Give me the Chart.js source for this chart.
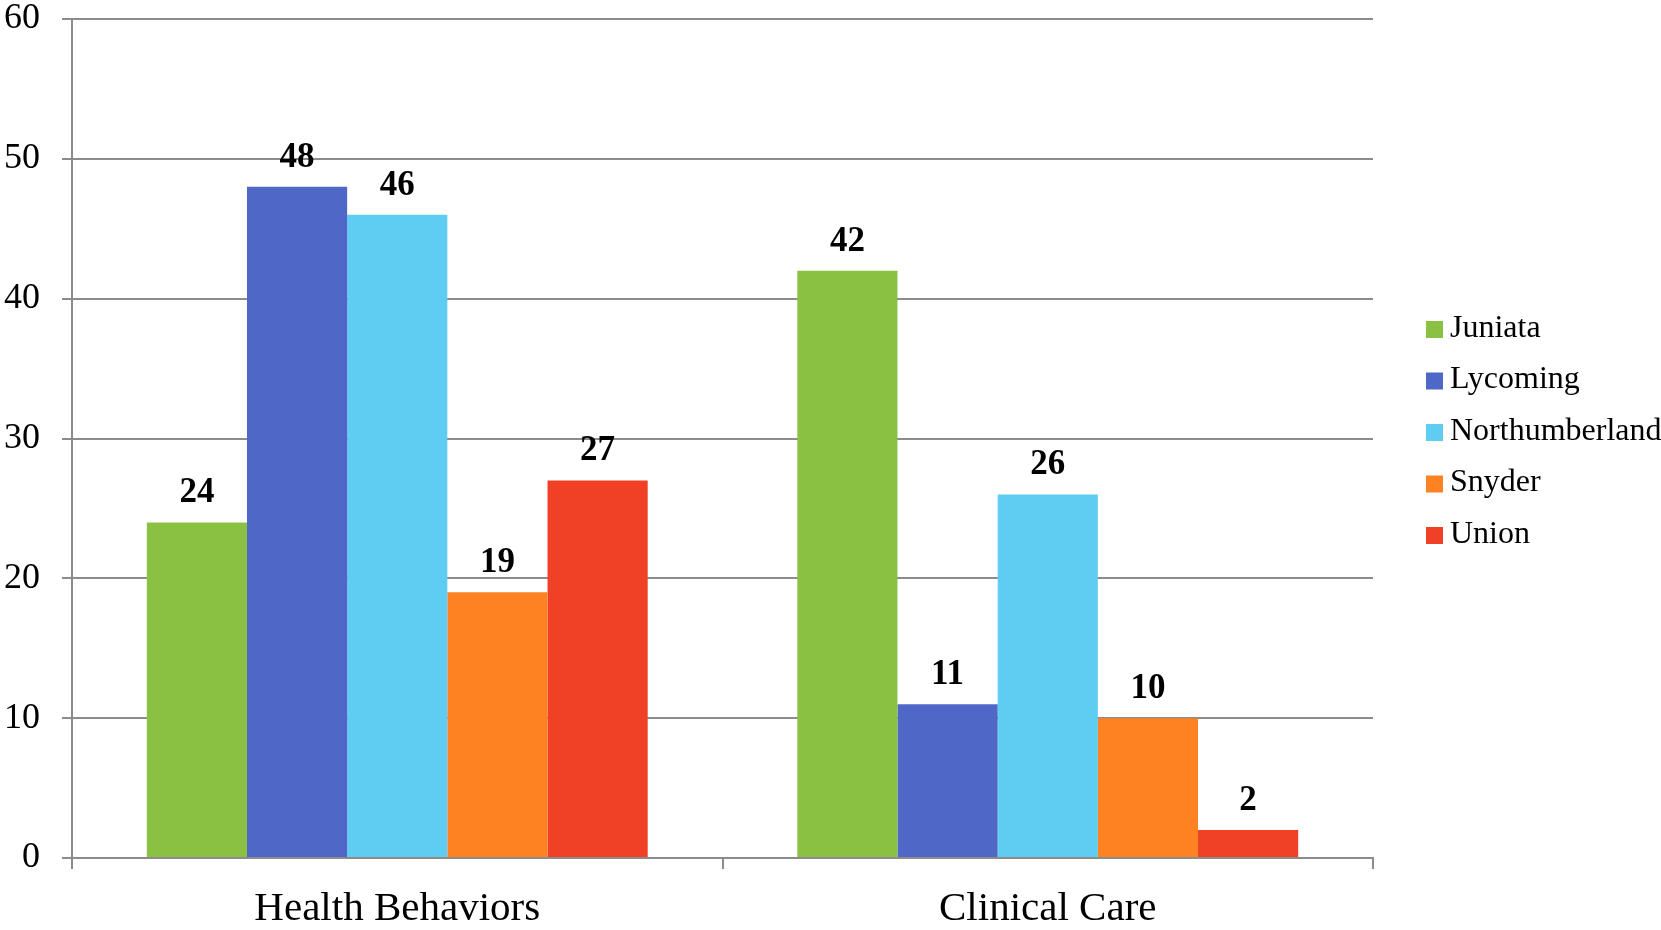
<!DOCTYPE html>
<html>
<head>
<meta charset="utf-8">
<title>Health Behaviors and Clinical Care</title>
<script src="https://cdn.jsdelivr.net/npm/chart.js@4"></script>
<style>
  html, body { margin: 0; padding: 0; background: #ffffff; overflow: hidden; }
  #wrap { width: 1661px; height: 930px; position: relative; }
  #chart { display: block; }
</style>
</head>
<body>
<div id="wrap"><canvas id="chart"></canvas></div>
<script>
// Categories along the x axis
const categories = ['Health Behaviors', 'Clinical Care'];

// One array per county, in category order
const juniata = [24, 42];
const lycoming = [48, 11];
const northumberland = [46, 26];
const snyder = [19, 10];
const union = [27, 2];

const seriesNames = ['Juniata', 'Lycoming', 'Northumberland', 'Snyder', 'Union'];
const seriesValues = [juniata, lycoming, northumberland, snyder, union];
const seriesColors = ['#8bc142', '#4f68c8', '#5fccf2', '#fe8122', '#f04126'];

// Y axis range
const yMin = 0;
const yMax = 60;
const yStep = 10;

const FONT = '"Liberation Serif", "Times New Roman", serif';
const GRID = '#8c8c8c';

// Bold value written above each bar
const valueLabels = {
  id: 'valueLabels',
  afterDatasetsDraw(chart) {
    const ctx = chart.ctx;
    ctx.save();
    ctx.font = 'bold 35px ' + FONT;
    ctx.fillStyle = '#000000';
    ctx.textAlign = 'center';
    ctx.textBaseline = 'alphabetic';
    chart.data.datasets.forEach((ds, i) => {
      const meta = chart.getDatasetMeta(i);
      meta.data.forEach((bar, j) => {
        ctx.fillText(String(ds.data[j]), bar.x, bar.y - 20);
      });
    });
    ctx.restore();
  }
};

// Series key at the right of the plot
const sideLegend = {
  id: 'sideLegend',
  afterDraw(chart) {
    const ctx = chart.ctx;
    const datasets = chart.data.datasets;
    const rowGap = 51.5;
    const boxSize = 17;
    const boxX = chart.chartArea.right + 53;
    const textX = boxX + boxSize + 7;
    const midY = (chart.chartArea.top + chart.chartArea.bottom) / 2 - 7;
    const firstY = midY - rowGap * (datasets.length - 1) / 2;
    ctx.save();
    ctx.font = '32px ' + FONT;
    ctx.textAlign = 'left';
    ctx.textBaseline = 'middle';
    datasets.forEach((ds, i) => {
      const y = firstY + i * rowGap;
      ctx.fillStyle = ds.backgroundColor;
      ctx.fillRect(boxX, y - boxSize / 2 + 1, boxSize, boxSize);
      ctx.fillStyle = '#000000';
      ctx.fillText(ds.label, textX, y);
    });
    ctx.restore();
  }
};

// Fixed axis band sizes; the plot box comes from the layout padding
function fitXAxis(scale) {
  scale.paddingLeft = 0;
  scale.paddingRight = 0;
  scale.height = 72;
}
function fitYAxis(scale) {
  scale.paddingTop = 0;
  scale.paddingBottom = 0;
  scale.width = 68;
}

new Chart(document.getElementById('chart'), {
  type: 'bar',
  data: {
    labels: categories,
    datasets: seriesNames.map((name, i) => ({
      label: name,
      data: seriesValues[i],
      backgroundColor: seriesColors[i],
      borderWidth: 0,
      categoryPercentage: 0.77,
      barPercentage: 1.0
    }))
  },
  options: {
    responsive: true,
    maintainAspectRatio: false,
    animation: false,
    devicePixelRatio: 1,
    layout: {
      autoPadding: false,
      padding: { left: 4, right: 288, top: 19, bottom: 0 }
    },
    plugins: {
      legend: { display: false },
      tooltip: { enabled: false }
    },
    scales: {
      x: {
        afterFit: fitXAxis,
        grid: {
          offset: true,
          drawOnChartArea: false,
          drawTicks: true,
          tickLength: 11,
          color: GRID,
          lineWidth: 2
        },
        border: { color: GRID, width: 2 },
        ticks: {
          color: '#000000',
          padding: 20,
          font: { family: FONT, size: 41, lineHeight: 1.0 }
        }
      },
      y: {
        min: yMin,
        max: yMax,
        afterFit: fitYAxis,
        grid: {
          color: GRID,
          lineWidth: 2,
          drawTicks: true,
          tickLength: 10
        },
        border: { color: GRID, width: 2 },
        ticks: {
          stepSize: yStep,
          color: '#000000',
          padding: 22,
          font: { family: FONT, size: 36, lineHeight: 1.1 }
        }
      }
    }
  },
  plugins: [valueLabels, sideLegend]
});
</script>
</body>
</html>
